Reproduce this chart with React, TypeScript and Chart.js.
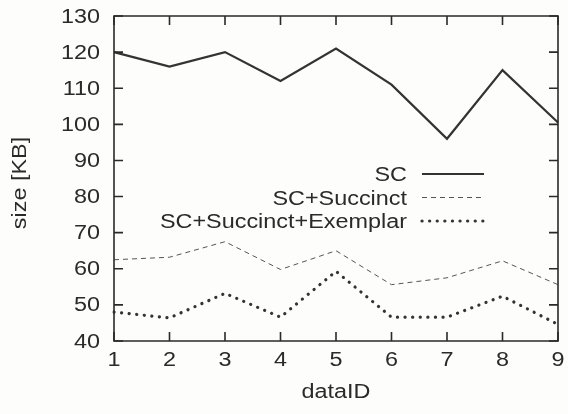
import React, { useEffect, useRef } from "react";
import { Chart, registerables } from "chart.js";

Chart.register(...registerables);

const dataIDs = ["1", "2", "3", "4", "5", "6", "7", "8", "9"];
const scValues = [120, 116, 120, 112, 121, 111, 96, 115, 100.5];
const succinctValues = [62.5, 63.2, 67.5, 59.8, 65, 55.6, 57.5, 62.2, 55.6];
const exemplarValues = [48, 46.4, 53.2, 46.6, 59.3, 46.6, 46.6, 52.4, 44.6];
const seriesLabels = ["SC", "SC+Succinct", "SC+Succinct+Exemplar"];
const yTitle = "size [KB]";
const xTitle = "dataID";

const FONT = "'Liberation Sans', Arial, Helvetica, sans-serif";
const INK = "#2a2a2a";
const FS = 20;
const SX = 1.17;

function stretchText(ctx: any, text: string, x: number, y: number, align: string, baseline: string, rot = 0) {
  ctx.save();
  ctx.translate(x, y);
  if (rot) ctx.rotate(rot);
  ctx.scale(SX, 1);
  ctx.font = `${FS}px ${FONT}`;
  ctx.fillStyle = INK;
  ctx.textAlign = align;
  ctx.textBaseline = baseline;
  ctx.fillText(text, 0, 0);
  ctx.restore();
}

const framePlugin = {
  id: "frameAndTicks",
  beforeDraw(chart: any) {
    const { ctx, width, height } = chart;
    ctx.save();
    ctx.fillStyle = "#fdfdfb";
    ctx.fillRect(0, 0, width, height);
    ctx.restore();
  },
  afterDraw(chart: any) {
    const { ctx, chartArea } = chart;
    const { left, right, top, bottom } = chartArea;
    const xs = chart.scales.x;
    const ys = chart.scales.y;
    const tl = 9;
    ctx.save();
    ctx.strokeStyle = INK;
    ctx.lineWidth = 1.6;
    ctx.beginPath();
    ctx.rect(left, top, right - left, bottom - top);
    ctx.stroke();
    ctx.beginPath();
    ys.ticks.forEach((t: any) => {
      const y = ys.getPixelForValue(t.value);
      ctx.moveTo(left, y);
      ctx.lineTo(left + tl, y);
      ctx.moveTo(right, y);
      ctx.lineTo(right - tl, y);
    });
    xs.ticks.forEach((_t: any, i: number) => {
      const x = xs.getPixelForTick(i);
      ctx.moveTo(x, bottom);
      ctx.lineTo(x, bottom - tl);
      ctx.moveTo(x, top);
      ctx.lineTo(x, top + tl);
    });
    ctx.stroke();
    ctx.restore();

    ys.ticks.forEach((t: any) => {
      const y = ys.getPixelForValue(t.value);
      stretchText(ctx, String(t.value), left - 14, y + 1, "right", "middle");
    });
    xs.ticks.forEach((_t: any, i: number) => {
      const x = xs.getPixelForTick(i);
      stretchText(ctx, xs.getLabelForValue(i), x, bottom + 9, "center", "top");
    });
    stretchText(ctx, xTitle, (left + right) / 2, 398, "center", "alphabetic");
    stretchText(ctx, yTitle, 26, 183, "center", "alphabetic", -Math.PI / 2);
  },
};

const legendPlugin = {
  id: "gnuLegend",
  afterDatasetsDraw(chart: any) {
    const { ctx } = chart;
    const textRight = 407;
    const sampleL = 422;
    const sampleR = 484;
    chart.data.datasets.forEach((ds: any, i: number) => {
      const base = 181 + i * 23.5;
      stretchText(ctx, ds.label, textRight, base, "right", "alphabetic");
      ctx.save();
      ctx.beginPath();
      ctx.strokeStyle = ds.borderColor;
      ctx.lineWidth = ds.borderWidth;
      ctx.lineCap = ds.borderCapStyle || "butt";
      ctx.setLineDash(ds.borderDash || []);
      ctx.moveTo(sampleL, base - 7);
      ctx.lineTo(sampleR, base - 7);
      ctx.stroke();
      ctx.restore();
    });
  },
};

export default function App() {
  const ref = useRef<HTMLCanvasElement>(null);

  useEffect(() => {
    if (!ref.current) return;
    const chart = new Chart(ref.current, {
      type: "line",
      data: {
        labels: dataIDs,
        datasets: [
          {
            label: seriesLabels[0],
            data: scValues,
            borderColor: "#333333",
            borderWidth: 2.2,
            pointRadius: 0,
            tension: 0,
            fill: false,
          },
          {
            label: seriesLabels[1],
            data: succinctValues,
            borderColor: "#555555",
            borderWidth: 1,
            borderDash: [5, 4],
            pointRadius: 0,
            tension: 0,
            fill: false,
          },
          {
            label: seriesLabels[2],
            data: exemplarValues,
            borderColor: "#333333",
            borderWidth: 3.2,
            borderDash: [0.1, 7.5],
            borderCapStyle: "round",
            pointRadius: 0,
            tension: 0,
            fill: false,
          },
        ],
      },
      options: {
        responsive: false,
        animation: false,
        layout: { padding: { left: 0, right: 10, top: 16, bottom: 0 } },
        plugins: {
          legend: { display: false },
          tooltip: { enabled: false },
        },
        scales: {
          x: {
            type: "category",
            offset: false,
            grid: { display: false, drawTicks: false },
            border: { display: false },
            ticks: { display: true, color: "rgba(0,0,0,0)", autoSkip: false, maxRotation: 0 },
            afterFit(scale: any) {
              scale.height = 73;
            },
          },
          y: {
            min: 40,
            max: 130,
            grid: { display: false, drawTicks: false },
            border: { display: false },
            ticks: { stepSize: 10, color: "rgba(0,0,0,0)" },
            afterFit(scale: any) {
              scale.width = 114;
            },
          },
        },
      },
      plugins: [framePlugin, legendPlugin],
    } as any);
    return () => chart.destroy();
  }, []);

  return (
    <div style={{ position: "fixed", left: 0, top: 0, width: 568, height: 414 }}>
      <canvas ref={ref} width={568} height={414} style={{ display: "block" }} />
    </div>
  );
}
